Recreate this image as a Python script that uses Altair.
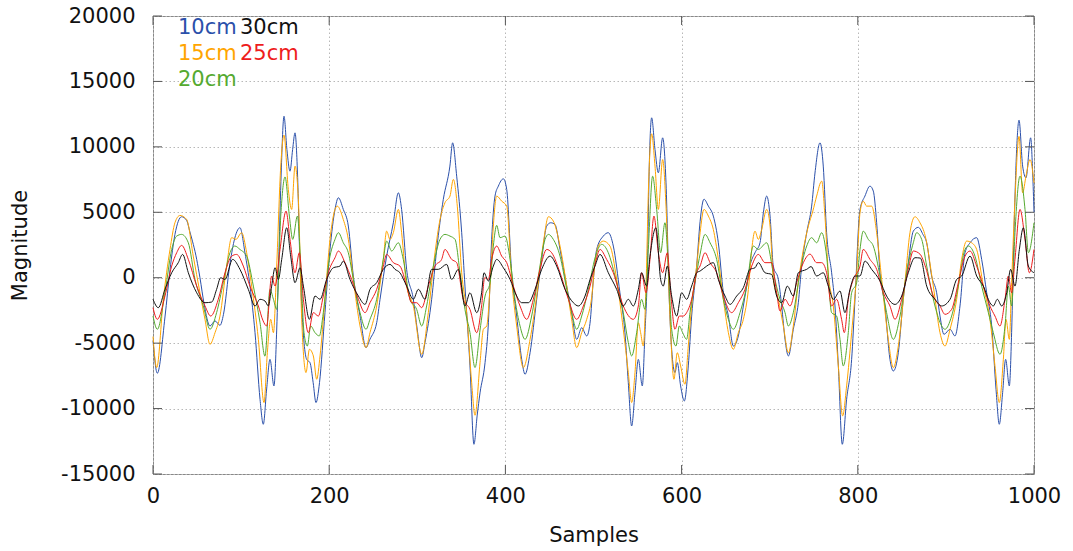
import altair as alt
import pandas as pd

# ---- measured series (sample index, magnitude) ----
S10 = [0, 4.9, 13.6, 19.3, 24.9, 32.5, 38, 41.9, 49.6, 53.3, 58, 64.7, 70.4, 76, 80, 87, 92, 98.7, 104.4, 110.1,
       115.8, 121.5, 125.2, 129, 132.8, 137.3, 140.4, 143, 145.5, 148.7, 152, 155.5, 158.5, 161.2, 164, 166.9, 168.8,
       171.5, 174.4, 178.2, 181.8, 185, 189, 195.2, 200.9, 206.6, 210.4, 216, 221.7, 227.4, 235, 241.8, 246.3, 253.9,
       257.7, 265.2, 272.8, 278.5, 282.2, 287.9, 295.5, 300, 305, 308.7, 316.3, 322, 329.5, 337, 340.1, 344.7, 350.4,
       354.1, 359.8, 364.3, 368, 371.2, 376.9, 380.7, 384.4, 388.2, 392, 397.7, 401.5, 407.1, 412.8, 418.5, 422.3,
       428, 435.5, 441.2, 446.9, 451.4, 456.3, 462, 469.6, 475.2, 480.9, 486.6, 492.3, 496, 500, 503.6, 511.1, 516.8,
       522.5, 530, 535.7, 539.5, 543.3, 547.1, 550.9, 555.4, 558.4, 561.1, 563.3, 566, 569.8, 573.6, 578.5, 582.3,
       586, 588.7, 592.5, 595.1, 598.9, 603.1, 607.6, 611.4, 617.1, 621, 625.4, 630.4, 636, 641.7, 647.4, 653.1,
       658.7, 664.4, 670.1, 673.9, 677.6, 683.3, 689, 692.8, 696.6, 700.4, 704.1, 709.8, 713.6, 717.4, 721.2, 726.8,
       732.5, 736.3, 742, 747.6, 751.4, 757.1, 760.8, 764.6, 770.3, 774.1, 777.9, 782.4, 787.3, 793, 796.8, 802.5,
       808.1, 813.8, 817.6, 821.4, 825.2, 830.8, 836.5, 840.3, 846, 851.6, 857.3, 863, 868.7, 874, 878.2, 883.8,
       889.5, 893.3, 897.8, 904.7, 910.3, 916, 921.7, 927.4, 934.9, 940.6, 946.3, 952, 956.9, 960.6, 964.4, 967.8,
       972, 974.6, 977.3, 980.3, 983, 987.1, 990.9, 996.2, 998.5, 1000]
M10 = [-4800, -7300, -3000, 600, 3300, 4660, 4400, 3500, 1400, 0, -2000, -3690, -3300, -3640, -2800, 900, 2800, 3820,
       1900, -640, -4200, -9300, -11200, -8500, -6240, -8270, -4000, 2000, 8000, 12340, 9800, 8140, 9800, 11070, 8000,
       890, -2160, -5000, -6240, -6490, -8020, -9540, -8020, -2670, 2160, 5220, 6110, 5220, 3950, 130, -2930, -5340,
       -4700, -3440, -1650, 1650, 4200, 6490, 5220, 640, -1650, -4000, -6110, -4960, -1650, 2160, 5980, 8530, 10310,
       7760, 3440, -640, -6740, -12730, -10500, -8800, -6490, -3440, 2930, 6240, 7000, 7560, 6740, 380, -2930, -6240,
       -7380, -5730, -1650, 1400, 3950, 4200, 4070, 2160, -640, -2670, -4710, -3820, -4450, -3500, 0, 2160, 3180,
       3440, 2420, -1150, -4200, -8020, -11330, -8780, -6240, -8270, -4200, 380, 8530, 12220, 9800, 8020, 10690, 7250,
       -1650, -5470, -7250, -6490, -8270, -9420, -6740, -2930, 890, 4300, 6000, 5470, 4710, 2670, -1150, -2930, -5220,
       -4450, -2160, -640, 890, 1910, 2670, 4960, 6240, 4710, 890, -130, -2160, -4710, -5980, -3940, -1910, 890, 3440,
       5470, 8000, 10310, 8530, 3440, 380, -2160, -6740, -12730, -9290, -6240, -1650, 5220, 6240, 7000, 6620, 4200,
       380, -2160, -6240, -7130, -5730, -1650, 1150, 3560, 3850, 3300, 2670, 130, -1150, -2930, -4330, -3940, -4450,
       -2160, 1910, 2670, 3060, 1400, -1150, -3690, -8530, -11200, -8780, -6240, -8270, -4200, 3440, 9800, 12040,
       8530, 7630, 10690, 8000, 5000]

S15 = [0, 4.2, 11.7, 19.3, 24.9, 30.6, 38.2, 45.7, 53.3, 59, 64.7, 70.4, 76, 83.6, 89.3, 94.2, 100.6, 106.3, 112,
       119.6, 126, 129.8, 133.6, 136.7, 140.4, 145, 148.7, 153.6, 157.4, 161.2, 165, 168.8, 173.7, 177.5, 182, 185.8,
       189.6, 195.2, 200.9, 206.6, 209.2, 216, 221.7, 227.4, 235, 241.8, 246.3, 253.9, 261.4, 265.2, 269, 272.8,
       278.5, 282.2, 287.9, 295.5, 305, 312.5, 320.1, 325.8, 331.4, 337.1, 340.9, 345.4, 350.4, 356, 361.7, 365.5,
       371.2, 375, 378.8, 382.6, 386.3, 390.1, 395.8, 401.5, 407.1, 412.8, 420.4, 428, 435.5, 443.1, 448.8, 454.4,
       462, 469.6, 475.2, 480.9, 486.6, 492.3, 497.9, 501.5, 505.5, 511.1, 518.7, 526.3, 533.8, 539.5, 543.3, 547.1,
       550.9, 553.5, 556.5, 559.6, 562.6, 566, 569.8, 573.6, 578.5, 582.3, 586.8, 591.3, 595.1, 598.9, 603.8, 607.6,
       611.4, 617.1, 621, 625.4, 630.4, 636, 641.7, 647.4, 653.1, 658.7, 664.4, 670.1, 675.8, 679.6, 683.3, 687.1,
       690.9, 696.6, 700.4, 704.1, 709.8, 715.5, 721.2, 726.8, 732.5, 738.2, 743.9, 749, 753.3, 759, 762.7, 766.5,
       772.2, 777.9, 782.8, 787.3, 793, 798.7, 802.5, 806.2, 810, 815.7, 821.4, 827.1, 834.6, 840.3, 846, 853.5,
       859.2, 864.9, 870.6, 876.5, 885.7, 893.3, 899, 904.7, 912.2, 917.9, 923.6, 929.2, 934.9, 942.5, 950, 955.7,
       960.6, 965.2, 968.2, 972, 974.6, 978.4, 983, 987.1, 990.9, 995.5, 1000]
M15 = [-4500, -6870, -1650, 2160, 4200, 4760, 4450, 1650, -1150, -3180, -5090, -4200, -2930, 890, 3060, 2930, 3440,
       1910, -640, -4710, -9540, -5730, -3180, -4200, 890, 8530, 10900, 6740, 5220, 8530, 5980, -3180, -7250, -5470,
       -5980, -7760, -5980, -1650, 2930, 5220, 5470, 4450, 2930, -130, -3690, -5340, -4200, -2160, 1400, 3560, 2930,
       3440, 5220, 3440, -640, -2160, -5850, -2670, 1910, 4450, 5730, 6240, 7510, 5470, 380, -2670, -8020, -10510,
       -6500, -3940, -3690, -640, 3950, 6240, 5850, 5470, -130, -3690, -6870, -4710, -1400, 2670, 4660, 4330, 2420,
       -640, -3180, -5340, -4200, -3180, -1500, 1000, 2420, 2800, 2420, -130, -3940, -7250, -9540, -7250, -3440,
       -4200, -5220, -640, 7250, 11000, 8530, 5220, 9030, 5470, -2930, -7760, -5730, -6740, -8140, -5220, -2160, 890,
       3440, 5220, 4710, 3690, 1400, -1650, -4200, -5470, -4200, -3180, -890, 2160, 3560, 2930, 3690, 5220, 3950,
       -130, -1650, -3690, -5730, -3690, -380, 2160, 3950, 5100, 6240, 7380, 4710, 380, -2160, -6740, -10560, -8270,
       -4200, 380, 4960, 5850, 5470, 5470, 3440, -130, -4710, -6870, -5220, -380, 3440, 4660, 4200, 3200, -640,
       -4200, -5220, -3940, -1650, 1400, 2800, 2670, 2160, -640, -3180, -6740, -9540, -6240, -3180, -4710, -380, 5980,
       10800, 6490, 7760, 9030, 7250]

S20 = [0, 4.9, 13.6, 21.2, 26.9, 32.5, 40.1, 47.7, 57.1, 64.7, 72.2, 79.8, 87.4, 93, 98.7, 106.3, 113.9, 121.4,
       127.1, 132.8, 136.7, 140.4, 145, 149.9, 154.8, 158.6, 163.9, 167.7, 171.4, 175.2, 179, 183.9, 188.8, 193.3,
       199, 206.6, 210.4, 216, 221.7, 227.4, 235, 241.8, 246.3, 253.9, 261.4, 265.2, 270.9, 278.5, 284.1, 291.7,
       299.3, 305, 310.6, 318.2, 325.8, 331.4, 337.1, 342.8, 348.5, 354.1, 359.8, 365.5, 371.2, 376.9, 382.6, 386.3,
       390.1, 393.9, 399.6, 405.3, 410.9, 416.6, 422.3, 429.8, 437.4, 445, 448.8, 454.4, 462, 469.6, 475.2, 480.9,
       486.6, 494.2, 501.7, 509.2, 516.8, 524.4, 533.8, 539.5, 543.3, 549, 554.6, 558.4, 562.2, 567.1, 571.7, 576.2,
       581.1, 584.9, 588.7, 593.6, 597.4, 601.2, 605.7, 609.5, 617.1, 621, 626.6, 632.3, 639.8, 647.4, 653.1, 658.7,
       666.3, 673.9, 681.4, 687.1, 696.6, 704.1, 711.7, 717.4, 721.2, 726.8, 734.4, 742, 747.6, 753.3, 759, 764.6,
       770.3, 776, 779.8, 783.5, 789.2, 793, 798.7, 802.5, 806.2, 811.9, 817.6, 825.2, 832.7, 840.3, 847.9, 855.4,
       863, 866.8, 872.5, 878.2, 887.6, 895.2, 899, 906.5, 914.1, 921.7, 925.5, 933, 940.6, 948.2, 953.8, 961.4,
       967.1, 970.9, 974.6, 978.4, 984.1, 989.8, 993.6, 1000]
M20 = [-2930, -3940, -1150, 2160, 3180, 3310, 2670, -130, -2160, -3940, -2670, -380, 1910, 2420, 2160, 1650, -640,
       -3400, -6000, -890, -1650, -2420, 4710, 7700, 4710, 2930, 4710, 890, -4200, -5220, -3690, -4200, -4450, -2670,
       890, 2930, 3440, 2670, 1910, -130, -2670, -3940, -3180, -1650, 1400, 2800, 2040, 2670, 1400, -1650, -2420,
       -3690, -2160, 890, 2930, 3310, 3180, 2930, 380, -2420, -4200, -6870, -4000, -1400, -380, 2420, 4000, 3060,
       3180, 1400, -1650, -3690, -4710, -2930, 130, 2930, 3310, 2930, 1650, -890, -2670, -3940, -2930, -890, 1500,
       2550, 1910, 130, -2670, -4960, -5980, -4200, -1650, -2420, 2160, 7760, 5220, 1910, 4200, 890, -3940, -5220,
       -3690, -4200, -4710, -2670, 380, 1800, 3310, 2670, 1400, -1650, -3180, -3940, -2670, -640, 2420, 2160, 2670,
       380, -1650, -2670, -3690, -2670, 380, 2420, 3060, 2670, 3440, 1650, -2670, -2930, -4710, -6740, -4200, -1150,
       -380, 2160, 3560, 2930, 2420, 130, -2670, -4710, -2930, 380, 2670, 3440, 2930, 890, -2160, -3690, -3940,
       -2930, -640, 2160, 2420, 1650, -640, -2670, -4200, -5850, -3690, -640, -2160, 3440, 7760, 5220, 1910, 4200]

S25 = [0, 4.9, 13.6, 21.2, 26.9, 32.5, 40.1, 49.6, 59, 65.5, 74.1, 81.7, 89.3, 94.9, 102.5, 110, 119.6, 125, 129,
       134.7, 138.5, 144.2, 151, 155.5, 161.2, 166.1, 170.7, 176.3, 182, 187.7, 193.3, 199, 206.6, 210.4, 217.9,
       225.5, 233.1, 240.7, 246.3, 253.9, 261.4, 265.2, 272.8, 280.3, 287.9, 293.6, 299.3, 305, 312.5, 320.1, 327.6,
       331.4, 339, 344.7, 352.2, 359.8, 367.4, 373, 376.5, 380.7, 384.4, 390.1, 395.8, 401.5, 409, 416.6, 424.2,
       431.7, 439.3, 446.9, 452.5, 462, 471.5, 480.9, 488.5, 496.1, 501.7, 507.4, 514.9, 522.5, 533.8, 545.2, 550.9,
       554.6, 559.6, 564.1, 568.6, 573.6, 578.5, 583.8, 587.6, 592.5, 597.4, 601.9, 605.7, 611.4, 617.1, 621, 626.6,
       632.3, 639.8, 647.4, 656.8, 664.4, 672, 679.6, 687.1, 694.7, 702.2, 707.9, 711.7, 717.4, 723.1, 730.6, 738.2,
       745.8, 753.3, 759, 764.6, 770.3, 776, 781.6, 784.7, 789.2, 794.9, 802.5, 806.2, 813.8, 821.4, 829, 836.5,
       842.2, 849.8, 857.3, 863, 870.6, 877, 885.7, 893.3, 899, 906.5, 914.1, 921.7, 927.4, 934.9, 942.5, 950, 955.7,
       961.4, 967.1, 970.9, 974.6, 978.4, 984.1, 989.8, 994.7, 1000]
M25 = [-2290, -3180, -1400, 890, 1910, 2470, 1400, -640, -2160, -2930, -1650, 380, 1650, 1780, 890, -640, -2160,
       -3300, -3690, 130, -640, 2160, 5090, 2930, 380, 1910, -1650, -4200, -2670, -2930, -1400, 380, 1530, 2040, 1150,
       -130, -1650, -2670, -1910, -890, 890, 1780, 1150, 890, -640, -1910, -1910, -2290, -640, 890, 1400, 2160, 1400,
       1150, -1650, -2420, -4200, -2160, 0, -130, 1400, 2420, 1650, 1150, -640, -2160, -3180, -1650, 640, 2160, 1910,
       380, -1650, -3180, -2160, -640, 1000, 2160, 1400, 380, -2160, -3180, -2160, 380, -1150, 1400, 4710, 1910, 380,
       1910, -1150, -3940, -2930, -2930, -2670, -1650, 380, 900, 1910, 1150, 380, -1400, -2670, -1910, -890, 890,
       1780, 1150, 1150, -1150, -2550, -1650, -2160, -380, 1150, 1800, 1150, 1150, 380, -2160, -1650, -3180, -4200,
       -1650, -130, 890, 2160, 1400, 640, -1150, -2160, -3180, -1650, 640, 2040, 1800, 800, -1400, -2160, -2800,
       -2420, -380, 1650, 2040, 890, -640, -2160, -2930, -3690, -1650, 130, -1150, 1400, 5220, 2930, 380, 2160]

S30 = [0, 6, 13.6, 21.2, 28.7, 33.6, 40.1, 49.6, 59, 66.6, 72.2, 76.8, 81.7, 90.4, 98.7, 108.2, 115.8, 121.4, 127.1,
       130.9, 134.7, 138.5, 142.3, 146.1, 151.8, 156.3, 161.2, 166.9, 170.7, 177.5, 183.9, 189.6, 197.1, 204.7,
       212.2, 216, 223.6, 233.1, 240.7, 246.3, 253.9, 261.4, 269, 274.7, 280.3, 287.9, 295.5, 301.2, 308.7, 316.3,
       323.9, 333.3, 339, 346.6, 354.1, 359.8, 367.4, 373, 375.7, 380.7, 386.3, 390.1, 397.7, 405.3, 412.8, 418.5,
       426.1, 433.6, 441.2, 450.7, 458.2, 467.7, 477.1, 482.8, 490.4, 496.1, 501.7, 507.4, 516.8, 526.3, 533.8, 539.5,
       545.2, 550.9, 554.6, 560.3, 564.1, 570.9, 576.2, 579.2, 583.8, 588.7, 594.4, 600, 605.7, 611.4, 617.1, 621,
       628.5, 636, 641.7, 649.3, 655, 662.5, 670.1, 677.6, 683.3, 687.1, 694.7, 702.2, 707.9, 713.6, 720, 726.8,
       732.5, 742, 747, 753.3, 760.8, 766.5, 772.2, 779.8, 785.4, 791.1, 796.8, 802.5, 808.1, 815.7, 825.2, 832.7,
       842.2, 849.8, 857.3, 864.9, 871, 878.2, 887.6, 895.2, 904.7, 912.2, 917.9, 927.4, 934.9, 942.5, 950, 953.8,
       958.4, 963.3, 969, 973.5, 978.4, 983.4, 987.9, 993.6, 1000]
M30 = [-1650, -2290, -890, 380, 1150, 1780, 380, -1150, -1910, -1860, -890, 0, -130, 1400, 640, -890, -2160, -1650,
       -1780, -2160, -640, 760, -130, 1400, 3820, 1650, -380, 760, -640, -3180, -1400, -1650, -130, 760, 890, 1270,
       -130, -1400, -2040, -890, -380, 640, 1020, 640, 380, -640, -1650, -890, -1650, 640, 640, 1020, -130, 640, -2160,
       -1150, -2670, -1150, 380, -250, 890, 1400, 760, -130, -1400, -1910, -1910, -890, 640, 1650, 890, -890, -1910,
       -2160, -1400, -130, 890, 1780, 380, -890, -2160, -1650, -2160, -890, 380, -640, 1650, 3820, -130, -640, 890,
       -1400, -2930, -1150, -1650, -640, 380, 510, 890, 1150, -130, -1400, -2040, -1400, -760, 640, 760, 1150, 380,
       250, -1400, -1910, -640, -1400, 380, 640, 850, 130, 380, -640, -1650, -1020, -2670, -890, 130, 130, 1270, 640,
       -250, -1400, -2040, -1400, 380, 1530, 1500, -640, -1650, -2160, -1650, -130, 130, 1650, 130, -640, -1910,
       -2160, -1650, -2160, -1150, 640, -640, 2160, 3820, 890, 380]

SERIES = ["10cm", "15cm", "20cm", "25cm", "30cm"]
LINE_COLORS = ["#2b50aa", "#ffa500", "#55aa30", "#ee1c1c", "#111111"]
X_TICKS = [0, 200, 400, 600, 800, 1000]
Y_TICKS = [-15000, -10000, -5000, 0, 5000, 10000, 15000, 20000]

W, H = 881, 458
FONT = "DejaVu Sans"
FS = 21

frames = []
for name, xs, ys in zip(SERIES, [S10, S15, S20, S25, S30], [M10, M15, M20, M25, M30]):
    frames.append(pd.DataFrame({"sample": xs, "magnitude": ys, "series": name}))
data = pd.concat(frames, ignore_index=True)

x_scale = alt.Scale(domain=[0, 1000], nice=False, zero=False)
y_scale = alt.Scale(domain=[-15000, 20000], nice=False, zero=False)
color_scale = alt.Scale(domain=SERIES, range=LINE_COLORS)

# plain integer labels with an ASCII hyphen for negatives
plain_label = "'' + datum.value"

# one axis definition per direction, shared by every layer so they merge cleanly
x_axis = alt.Axis(
    values=X_TICKS, title="Samples", grid=True, gridDash=[1.5, 2.5], gridColor="#b8b8b8",
    ticks=False, domain=False, labelPadding=11, labelFontSize=FS, labelFont=FONT,
    labelColor="#111", labelFlush=False, labelExpr=plain_label,
    titleFontSize=FS, titleFont=FONT, titleFontWeight="normal",
    titleColor="#111", titleX=W / 2, titleY=61, titleBaseline="middle")
y_axis = alt.Axis(
    values=Y_TICKS, title="Magnitude", grid=True, gridDash=[1.5, 2.5], gridColor="#b8b8b8",
    ticks=False, domain=False, labelPadding=18, labelFontSize=FS, labelFont=FONT,
    labelColor="#111", labelFlush=False, labelExpr=plain_label,
    titleFontSize=FS, titleFont=FONT, titleFontWeight="normal",
    titleColor="#111", titleX=-133, titleY=H / 2, titleAngle=270, titleBaseline="middle")

lines = alt.Chart(data).mark_line(strokeWidth=1, interpolate="monotone").encode(
    x=alt.X("sample:Q", scale=x_scale, axis=x_axis),
    y=alt.Y("magnitude:Q", scale=y_scale, axis=y_axis),
    color=alt.Color("series:N", scale=color_scale, legend=None),
    detail="series:N",
)

# inward tick marks on all four sides of the frame
xt = pd.DataFrame({"sample": X_TICKS})
yt = pd.DataFrame({"magnitude": Y_TICKS})
tick_col = "#555555"
tx_bottom = alt.Chart(xt).mark_rule(color=tick_col, strokeWidth=1).encode(
    x=alt.X("sample:Q", scale=x_scale, axis=x_axis), y=alt.value(H), y2=alt.value(H - 9))
tx_top = alt.Chart(xt).mark_rule(color=tick_col, strokeWidth=1).encode(
    x=alt.X("sample:Q", scale=x_scale, axis=x_axis), y=alt.value(0), y2=alt.value(9))
ty_left = alt.Chart(yt).mark_rule(color=tick_col, strokeWidth=1).encode(
    y=alt.Y("magnitude:Q", scale=y_scale, axis=y_axis), x=alt.value(0), x2=alt.value(9))
ty_right = alt.Chart(yt).mark_rule(color=tick_col, strokeWidth=1).encode(
    y=alt.Y("magnitude:Q", scale=y_scale, axis=y_axis), x=alt.value(W), x2=alt.value(W - 9))

# key: coloured labels in two columns, top-left inside the frame
key_layers = []
key_slots = {"10cm": (25, 12), "30cm": (87, 12), "15cm": (25, 38), "25cm": (87, 38), "20cm": (25, 64)}
for name, col in zip(SERIES, LINE_COLORS):
    kx, ky = key_slots[name]
    key_layers.append(
        alt.Chart(pd.DataFrame({"label": [name]})).mark_text(
            align="left", baseline="middle", fontSize=FS, font=FONT, color=col
        ).encode(text="label:N", x=alt.value(kx), y=alt.value(ky))
    )

chart = alt.layer(lines, tx_bottom, tx_top, ty_left, ty_right, *key_layers).properties(
    width=W, height=H,
    autosize=alt.AutoSizeParams(type="none"),
    padding={"left": 153, "top": 16, "right": 39, "bottom": 77},
    background="white",
).configure_view(stroke="#888888", strokeWidth=1)

chart.save("out.html", embed_options={"renderer": "svg", "actions": False})
